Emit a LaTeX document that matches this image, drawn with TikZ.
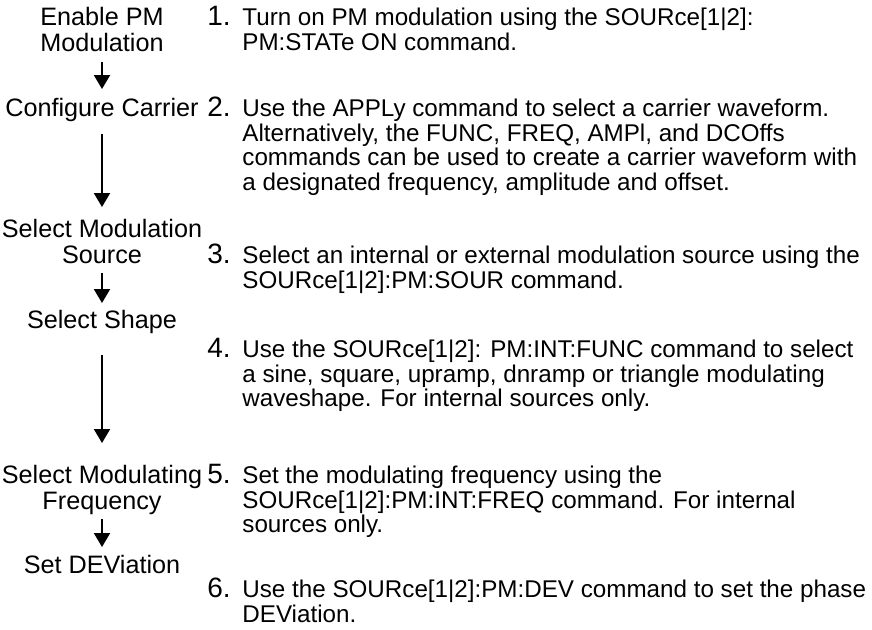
\documentclass[tikz,border=0pt]{standalone}
\usepackage{fontspec}
\setmainfont{Liberation Sans}
\usetikzlibrary{positioning,arrows.meta}

\begin{document}
\begin{tikzpicture}[
        x=0.5pt, y=-0.5pt, >={Triangle[length=7pt,width=8pt]},
        stage/.style={anchor=north, align=center, inner sep=0pt, font=\fontsize{12.6}{13}\selectfont},
        num/.style={anchor=base west, inner sep=0pt, font=\fontsize{14}{14}\selectfont},
        desc/.style={anchor=north west, align=left, inner sep=0pt, font=\fontsize{12.1}{12.2}\selectfont},
        flow/.style={->, line width=1pt, shorten <=4pt, shorten >=4pt}]
        \useasboundingbox (0,0) rectangle (872,629);
        % left column: steps
        \node[stage] (en)  at (102,7)   {Enable PM\\Modulation};
        \node[stage] (car) at (102,98)  {Configure Carrier};
        \node[stage] (src) at (102,219) {Select Modulation\\Source};
        \node[stage] (shp) at (102,310) {Select Shape};
        \node[stage] (frq) at (102,465) {Select Modulating\\Frequency};
        \node[stage] (dev) at (102,555) {Set DEViation};
        \draw[flow, shorten <=5pt, shorten >=4.5pt] (en.south)  -- (car.north);
        \draw[flow, shorten <=6pt, shorten >=6pt] (car.south) -- (src.north);
        \draw[flow, shorten <=4.5pt, shorten >=3.5pt] (src.south) -- (shp.north);
        \draw[flow, shorten <=10.5pt, shorten >=11pt] (shp.south) -- (frq.north);
        \draw[flow, shorten <=2pt] (frq.south) -- (dev.north);
        % right column: descriptions
        \node[num]  (n1) at (207,25)  {1.};
        \node[desc] (d1) at (242,8)   {Turn on PM modulation using the SOURce[1|2]:\\PM:STATe ON command.};
        \node[num]  (n2) at (207,116) {2.};
        \node[desc] (d2) at (242,99)  {Use the APPLy command to select a carrier waveform.\\Alternatively, the FUNC, FREQ, AMPl, and DCOffs\\commands can be used to create a carrier waveform with\\a designated frequency, amplitude and offset.};
        \node[num]  (n3) at (207,263) {3.};
        \node[desc] (d3) at (242,246) {Select an internal or external modulation source using the\\SOURce[1|2]:PM:SOUR command.};
        \node[num]  (n4) at (207,357) {4.};
        \node[desc] (d4) at (242,340) {Use the SOURce[1|2]: PM:INT:FUNC command to select\\a sine, square, upramp, dnramp or triangle modulating\\waveshape. For internal sources only.};
        \node[num]  (n5) at (207,483) {5.};
        \node[desc] (d5) at (242,466) {Set the modulating frequency using the\\SOURce[1|2]:PM:INT:FREQ command. For internal\\sources only.};
        \node[num]  (n6) at (207,597) {6.};
        \node[desc] (d6) at (242,580) {Use the SOURce[1|2]:PM:DEV command to set the phase\\DEViation.};
    \end{tikzpicture}
\end{document}
